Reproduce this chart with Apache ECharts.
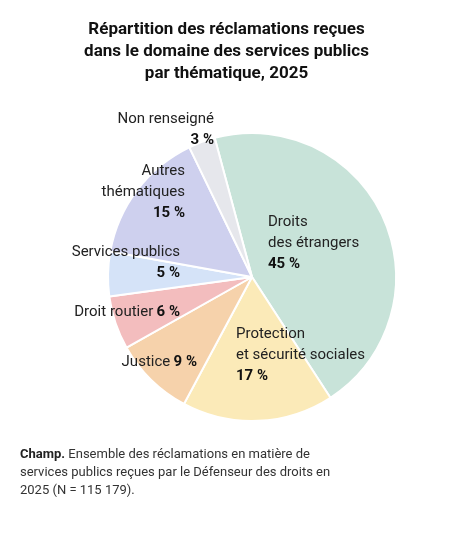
<!DOCTYPE html><html><head><meta charset="utf-8"><script src="https://cdn.jsdelivr.net/npm/echarts@6/dist/echarts.min.js"></script>
<style>body{margin:0;background:#fff}#c{width:453px;height:534px}</style></head><body><div id="c"></div><script>
const categories=['Droits\ndes étrangers','Protection\net sécurité sociales','Justice','Droit routier','Services publics','Autres\nthématiques','Non renseigné'];
const values=[45,17,9,6,5,15,3];
const colors=['#c8e3d9','#fbeab8','#f6d2ab','#f3bdbe','#d5e3f8','#ced0ee','#e6e7ec'];
const inline=[false,false,true,true,false,false,false];
const labelPos=[[268,243,'left'],[236,355,'left'],[197,362,'right'],[180,312,'right'],[180,263,'right'],[185,192,'right'],[214,130,'right']];
const ch=echarts.init(document.getElementById('c'));
const F='Roboto';
ch.setOption({
title:{text:'Répartition des réclamations reçues\ndans le domaine des services publics\npar thématique, 2025',left:'center',top:14,textStyle:{fontFamily:F,fontSize:17,fontWeight:'bold',lineHeight:22,color:'#111'}},
graphic:[{type:'text',left:20,top:446,style:{rich:{b:{fontWeight:'bold',fontSize:13,fontFamily:F,fill:'#222'},n:{fontSize:13,fontFamily:F,fill:'#333',lineHeight:18}},text:'{b|Champ.}{n| Ensemble des réclamations en matière de}\n{n|services publics reçues par le Défenseur des droits en}\n{n|2025 (N = 115 179).}',lineHeight:18}}],
series:[{type:'pie',center:[252,277],radius:[0,144],startAngle:105,clockwise:true,avoidLabelOverlap:false,
itemStyle:{borderColor:'#fff',borderWidth:2},labelLine:{show:false},
labelLayout:function(p){const l=labelPos[p.dataIndex];return {x:l[0],y:l[1],align:l[2],verticalAlign:'middle'};},
data:values.map((v,i)=>{
 const al=labelPos[i][2];
 return {name:categories[i],value:v,itemStyle:{color:colors[i]},
  label:{show:true,overflow:'none',position:'outside',
   formatter:inline[i]?'{a|{b}} {v|{c} %}':'{a|{b}}\n{v|{c} %}',
   rich:{a:{fontFamily:F,fontSize:15,color:'#222',lineHeight:21,align:al},v:{fontFamily:F,fontSize:15,fontWeight:'bold',color:'#111',lineHeight:21,align:al}}}};
})}]
});
</script></body></html>
